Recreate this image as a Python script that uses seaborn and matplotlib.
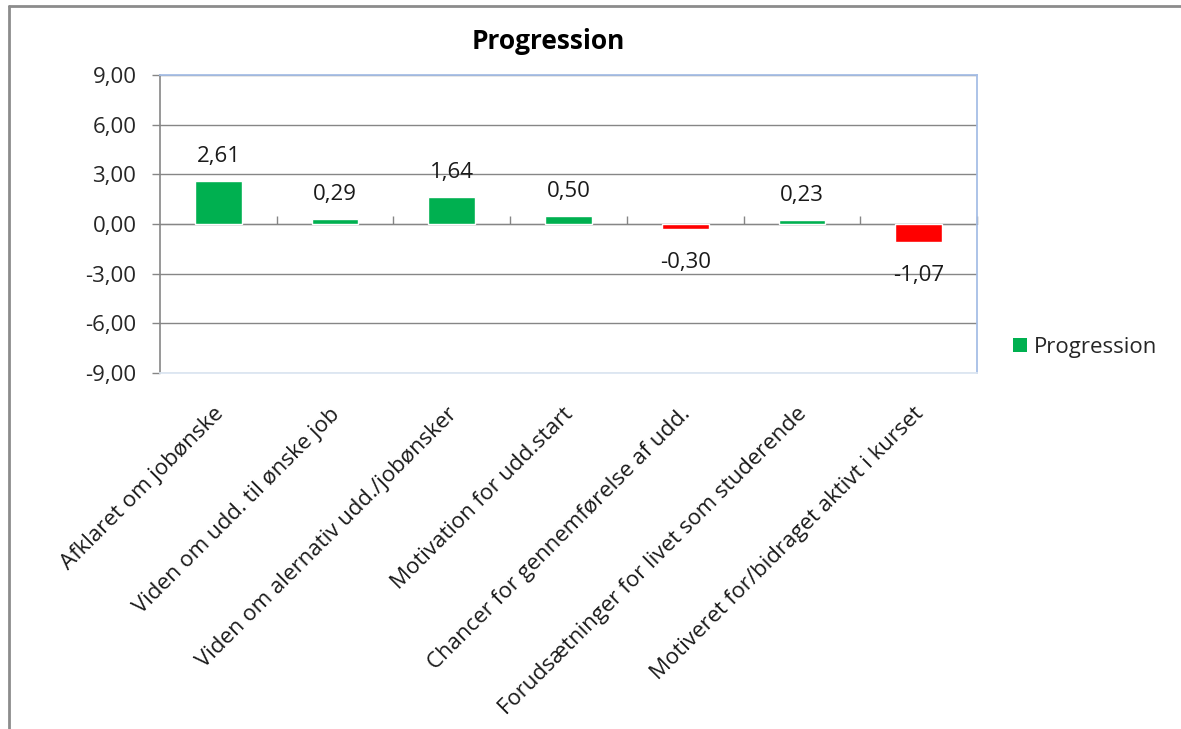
import matplotlib.pyplot as plt
import matplotlib.transforms as mtransforms
from matplotlib.lines import Line2D
from matplotlib.patches import Patch
import pandas as pd
import seaborn as sns

# Data
categories = [
    'Afklaret om jobønske',
    'Viden om udd. til ønske job',
    'Viden om alernativ udd./jobønsker',
    'Motivation for udd.start',
    'Chancer for gennemførelse af udd.',
    'Forudsætninger for livet som studerende',
    'Motiveret for/bidraget aktivt i kurset',
]
values = [2.61, 0.29, 1.64, 0.50, -0.30, 0.23, -1.07]
y_ticks = [-9, -6, -3, 0, 3, 6, 9]
series_name = 'Progression'

GREEN = '#00B050'
RED = '#FF0000'
FS = 16

df = pd.DataFrame({'category': categories, 'value': values})
df['sign'] = ['pos' if v >= 0 else 'neg' for v in df['value']]

sns.set_style('white')
plt.rcParams['font.family'] = ['Open Sans', 'DejaVu Sans']

fig = plt.figure(figsize=(11.81, 7.29), dpi=100)
ax = fig.add_axes([0.1355, 0.4883, 0.6918, 0.4088])

sns.barplot(data=df, x='category', y='value', hue='sign',
            palette={'pos': GREEN, 'neg': RED}, width=0.4,
            dodge=False, legend=False, saturation=1, ax=ax)

ax.set_ylim(-9, 9)
ax.set_xlim(-0.5, len(categories) - 0.5)
ax.set_yticks(y_ticks)
ax.set_yticklabels([f'{t:.2f}'.replace('.', ',') for t in y_ticks],
                   fontsize=FS, color='#262626')
ax.tick_params(axis='y', direction='out', length=6, width=1,
               color='#868686', pad=11, left=True)
ax.grid(axis='y', color='#868686', linewidth=1)
ax.set_axisbelow(True)
ax.set_xlabel('')
ax.set_ylabel('')

# category labels, rotated
ax.set_xticks(range(len(categories)))
ax.set_xticklabels(categories, rotation=45, ha='right', va='top',
                   rotation_mode='anchor', fontsize=FS, color='#1a1a1a')
ax.tick_params(axis='x', length=0, pad=22)
offset = mtransforms.ScaledTranslation(-4 / 72, 0, fig.dpi_scale_trans)
for lbl in ax.get_xticklabels():
    lbl.set_transform(lbl.get_transform() + offset)

# spines
for side in ['top', 'right']:
    ax.spines[side].set_color('#A6BEE6')
    ax.spines[side].set_linewidth(1.3)
ax.spines['bottom'].set_color('#DCE6F2')
ax.spines['bottom'].set_linewidth(1.3)
ax.spines['left'].set_color('#868686')
ax.spines['left'].set_linewidth(1.2)

# zero axis line with category boundary ticks
zero_ax = ax.secondary_xaxis(0.5)
zero_ax.set_xticks([i + 0.5 for i in range(len(categories))])
zero_ax.set_xticklabels([])
zero_ax.tick_params(direction='out', length=6, width=1, color='#868686')
zero_ax.spines['bottom'].set_color('#868686')
zero_ax.spines['bottom'].set_linewidth(1.2)

# data labels
for i, v in enumerate(values):
    txt = f'{v:.2f}'.replace('.', ',')
    dy = 17.5 if v >= 0 else -24
    ax.annotate(txt, (i, v), xytext=(0, dy), textcoords='offset points',
                ha='center', va='center', fontsize=FS, color='#1a1a1a')

ax.set_title('Progression', fontsize=19, fontweight='bold', pad=19,
             color='#000000', x=0.475)

# legend
handles = [Patch(facecolor=GREEN, edgecolor='none', label=series_name)]
fig.legend(handles=handles, loc='center left', bbox_to_anchor=(0.841, 0.524),
           frameon=False, fontsize=FS, handlelength=0.6, handleheight=0.6,
           handletextpad=0.35)

# outer frame
fig.add_artist(Line2D([0.0075, 1.0], [0.992, 0.992], color='#8C8C8C',
                      linewidth=2, transform=fig.transFigure))
fig.add_artist(Line2D([0.0075, 0.0075], [0.0, 0.992], color='#8C8C8C',
                      linewidth=2, transform=fig.transFigure))

fig.savefig('out.png', dpi=100)
